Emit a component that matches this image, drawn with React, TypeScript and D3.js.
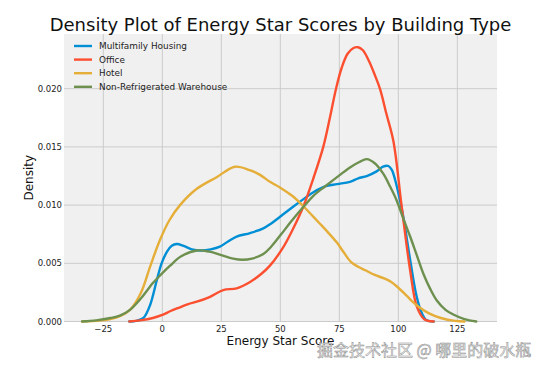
import React from "react";
import * as d3 from "d3";

const seriesNames = ["Multifamily Housing", "Office", "Hotel", "Non-Refrigerated Warehouse"];
const seriesColors = ["#008fd5", "#fc4f30", "#e5ae38", "#6d904f"];

const multiX = [-14, -11, -8, -5.2, -2.4, -0.3, 2, 4, 6.1, 9, 12.5, 16.7, 20.5, 24.4, 28, 31.5, 37.2, 42.8, 46, 49.9, 55, 60.4, 64, 68.9, 74, 79.5, 83, 86.6, 90.8, 93.5, 95.8, 97.3, 98.6, 100.5, 102.1, 105, 107.8, 110, 112, 115];
const multiY = [0, 0.00005, 0.0003, 0.0014, 0.0035, 0.0050, 0.0060, 0.0065, 0.00666, 0.0065, 0.0062, 0.0061, 0.0062, 0.00643, 0.0069, 0.0073, 0.0076, 0.0080, 0.0084, 0.0090, 0.0098, 0.0106, 0.0111, 0.0116, 0.0118, 0.0120, 0.0123, 0.0125, 0.0129, 0.0133, 0.01336, 0.0130, 0.0122, 0.0106, 0.0090, 0.0053, 0.0021, 0.0007, 0.0001, 0];

const officeX = [-14, -9.4, -4, 0, 3.5, 7.5, 11, 14.6, 20, 25.8, 31.5, 37.2, 42, 45.6, 51, 55, 59.8, 64, 68.2, 71, 73.6, 76, 78.5, 81, 83, 85, 87.5, 90, 92.2, 95, 97.9, 101.4, 105, 107.8, 111, 115];
const officeY = [0, 0.0001, 0.0003, 0.00056, 0.0009, 0.00122, 0.0015, 0.0017, 0.0021, 0.0027, 0.00285, 0.0034, 0.0041, 0.0048, 0.0063, 0.0078, 0.0099, 0.0123, 0.0150, 0.0175, 0.0200, 0.0218, 0.0230, 0.0235, 0.02356, 0.0233, 0.0224, 0.0212, 0.0200, 0.0178, 0.0155, 0.0099, 0.0044, 0.0013, 0.0002, 0];

const hotelX = [-34, -28, -22, -17.5, -13.7, -9, -5.2, -1, 3, 7.5, 14.6, 23, 30.8, 37, 41.4, 45.6, 50, 55, 59.8, 62.6, 66.8, 70, 73.9, 77, 80, 83, 86, 90, 94, 97, 100, 103.6, 106, 109, 113, 118, 124, 128];
const hotelY = [0, 0.00005, 0.0002, 0.0005, 0.0010, 0.0025, 0.0047, 0.0070, 0.0087, 0.0100, 0.0114, 0.0124, 0.0133, 0.0130, 0.0126, 0.0120, 0.0115, 0.0108, 0.0099, 0.0093, 0.0084, 0.0077, 0.0068, 0.0059, 0.0051, 0.0047, 0.0044, 0.0040, 0.0037, 0.0034, 0.0029, 0.0022, 0.0017, 0.0012, 0.0007, 0.0003, 0.00005, 0];

const wareX = [-34, -28, -22, -18, -13.7, -9, -4, -1.7, 3.3, 8, 14.6, 20, 25, 30, 34, 38, 42.8, 46, 50, 55, 60, 64, 68.9, 75.3, 80, 83.5, 86.6, 90, 93.6, 96.5, 99.3, 102, 105, 107.8, 110.6, 113.5, 116.3, 120, 123.3, 128, 133];
const wareY = [0, 0.0001, 0.0003, 0.0005, 0.0010, 0.0020, 0.0033, 0.0038, 0.0048, 0.0056, 0.0061, 0.0060, 0.0057, 0.0054, 0.0053, 0.0054, 0.0058, 0.0064, 0.0074, 0.0087, 0.0099, 0.0108, 0.0116, 0.0126, 0.0133, 0.0137, 0.01395, 0.0136, 0.0127, 0.0116, 0.0104, 0.0089, 0.0073, 0.0057, 0.0041, 0.0028, 0.0018, 0.0010, 0.0006, 0.0002, 0];

const xTicks = [-25, 0, 25, 50, 75, 100, 125];
const yTicks = [0, 0.005, 0.01, 0.015, 0.02];

const title = "Density Plot of Energy Star Scores by Building Type";
const xLabel = "Energy Star Score";
const yLabel = "Density";
const watermark = "掘金技术社区 @ 哪里的破水瓶";

const W = 535, H = 369;
const L = 64, R = 497, T = 34, B = 321.5;

export default function App() {
  const x = d3.scaleLinear().domain([-41.65, 141.8]).range([L, R]);
  const y = d3.scaleLinear().domain([0, 0.0247]).range([B, T]);
  const line = d3.line<[number, number]>().x(d => x(d[0])).y(d => y(d[1])).curve(d3.curveCatmullRom.alpha(0.5));
  const series = [
    d3.zip(multiX, multiY),
    d3.zip(officeX, officeY),
    d3.zip(hotelX, hotelY),
    d3.zip(wareX, wareY),
  ] as [number, number][][];
  const font = "DejaVu Sans, sans-serif";
  return (
    <svg width={W} height={H} style={{ position: "absolute", left: 0, top: 0 }} fontFamily={font}>
      <rect x={0} y={0} width={W} height={H} fill="#ffffff" />
      <rect x={L} y={T} width={R - L} height={B - T + 0.5} fill="#f0f0f0" />
      {xTicks.map(t => (
        <line key={"gx" + t} x1={x(t)} x2={x(t)} y1={T} y2={B} stroke="#cbcbcb" strokeWidth={1} />
      ))}
      {yTicks.map(t => (
        <line key={"gy" + t} x1={L} x2={R} y1={y(t)} y2={y(t)} stroke="#cbcbcb" strokeWidth={1} />
      ))}
      {series.map((s, i) => (
        <path key={i} d={line(s) || ""} fill="none" stroke={seriesColors[i]} strokeWidth={2.4} strokeLinejoin="round" strokeLinecap="round" />
      ))}
      {xTicks.map(t => (
        <text key={"tx" + t} x={x(t)} y={B + 10} fontSize={8.5} textAnchor="middle" fill="#222">
          {t < 0 ? "\u2212" + Math.abs(t) : String(t)}
        </text>
      ))}
      {yTicks.map(t => (
        <text key={"ty" + t} x={L - 2} y={y(t) + 3} fontSize={8.5} textAnchor="end" fill="#222">
          {t.toFixed(3)}
        </text>
      ))}
      <text x={(L + R) / 2} y={31} fontSize={18} textAnchor="middle" fill="#111">{title}</text>
      <text x={(L + R) / 2} y={345} fontSize={12} textAnchor="middle" fill="#111">{xLabel}</text>
      <text transform={`translate(33,${(T + B) / 2}) rotate(-90)`} fontSize={12} textAnchor="middle" fill="#111">{yLabel}</text>
      {seriesNames.map((n, i) => (
        <g key={n} transform={`translate(74,${46 + i * 13.6})`}>
          <line x1={0} x2={18} y1={0} y2={0} stroke={seriesColors[i]} strokeWidth={2.4} />
          <text x={25} y={3} fontSize={8.9} fill="#222">{n}</text>
        </g>
      ))}
      <text x={317} y={356} fontSize={16} fill="#f4f4f4" stroke="#8a8a8a" strokeWidth={0.5}
        fontFamily="Noto Sans CJK SC, sans-serif">{watermark}</text>
    </svg>
  );
}
